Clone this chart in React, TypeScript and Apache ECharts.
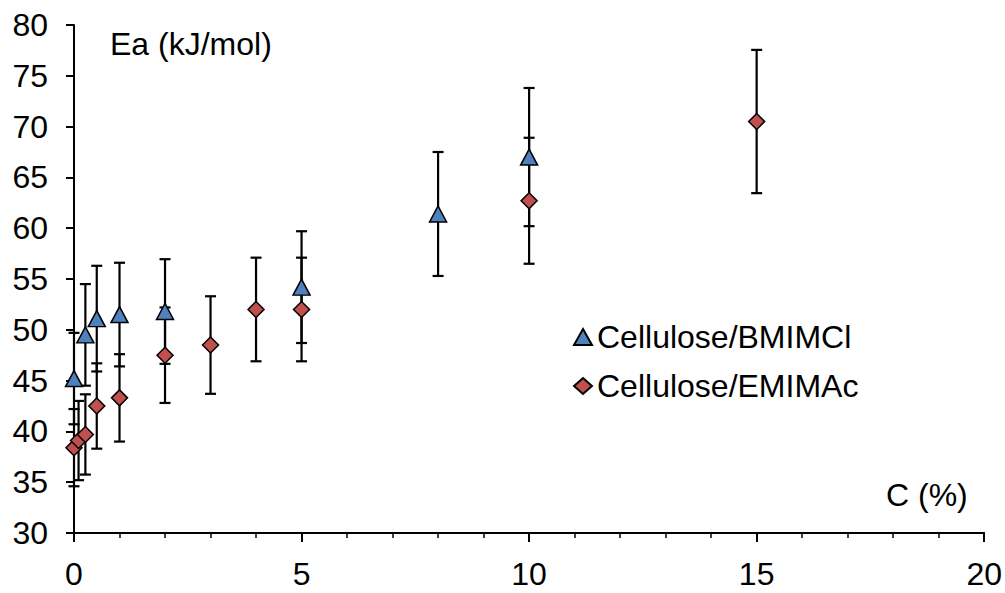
import React, { useEffect, useRef } from "react";
import * as echarts from "echarts";

const xBM = [0, 0.25, 0.5, 1, 2, 5, 8, 10];
const yBM = [45.2, 49.5, 51.1, 51.5, 51.8, 54.2, 61.4, 67.0];
const eBM = [4.5, 5.0, 5.2, 5.1, 5.15, 5.5, 6.1, 6.8];

const xEM = [0, 0.1, 0.25, 0.5, 1, 2, 3, 4, 5, 10, 15];
const yEM = [38.4, 39.1, 39.7, 42.5, 43.3, 47.5, 48.5, 52.0, 52.0, 62.7, 70.5];
const eEM = [3.8, 3.9, 3.95, 4.2, 4.3, 4.7, 4.8, 5.1, 5.1, 6.2, 7.05];

const nameBM = "Cellulose/BMIMCl";
const nameEM = "Cellulose/EMIMAc";
const FONT = "Liberation Sans, Arial, sans-serif";
const FS = 32;

function errData(xs: number[], ys: number[], es: number[]) {
  return xs.map((x, i) => [x, ys[i] - es[i], ys[i] + es[i]]);
}

function renderErr(params: any, api: any) {
  const x = api.value(0);
  const lo = api.coord([x, api.value(1)]);
  const hi = api.coord([x, api.value(2)]);
  const hw = 5.5;
  const style = { stroke: "#000", lineWidth: 2.2 };
  return {
    type: "group",
    children: [
      { type: "line", shape: { x1: lo[0], y1: lo[1], x2: hi[0], y2: hi[1] }, style },
      { type: "line", shape: { x1: lo[0] - hw, y1: lo[1], x2: lo[0] + hw, y2: lo[1] }, style },
      { type: "line", shape: { x1: hi[0] - hw, y1: hi[1], x2: hi[0] + hw, y2: hi[1] }, style },
    ],
  };
}

export default function App() {
  const ref = useRef<HTMLDivElement>(null);
  useEffect(() => {
    const chart = echarts.init(ref.current!, null, { renderer: "svg" });
    chart.setOption({
      animation: false,
      backgroundColor: "#fff",
      grid: { left: 74, right: 18, top: 25, bottom: 60 },
      xAxis: {
        type: "value",
        min: 0,
        max: 20,
        interval: 5,
        axisLine: { show: true, lineStyle: { color: "#000", width: 2 } },
        axisTick: { show: true, inside: false, length: 9, lineStyle: { color: "#000", width: 2 } },
        minorTick: { show: true, splitNumber: 5, length: 5, lineStyle: { color: "#000", width: 1.5 } },
        splitLine: { show: false },
        axisLabel: { color: "#000", fontSize: FS, fontFamily: FONT, margin: 25 },
      },
      yAxis: {
        type: "value",
        min: 30,
        max: 80,
        interval: 5,
        axisLine: { show: true, lineStyle: { color: "#000", width: 2 } },
        axisTick: { show: true, inside: false, length: 8, lineStyle: { color: "#000", width: 2 } },
        splitLine: { show: false },
        axisLabel: { color: "#000", fontSize: FS, fontFamily: FONT, margin: 26 },
      },
      legend: {
        orient: "vertical",
        left: 568,
        top: 316,
        itemWidth: 18,
        itemHeight: 16,
        itemGap: 17,
        textStyle: { color: "#000", fontSize: FS, fontFamily: FONT },
        data: [nameBM, nameEM],
      },
      graphic: [
        { type: "text", left: 110, top: 28, style: { text: "Ea (kJ/mol)", fontSize: FS, fontFamily: FONT, fill: "#000" } },
        { type: "text", left: 886, top: 479, style: { text: "C (%)", fontSize: FS, fontFamily: FONT, fill: "#000" } },
      ],
      series: [
        { type: "custom", name: "errBM", renderItem: renderErr, data: errData(xBM, yBM, eBM), z: 2, encode: { x: 0, y: [1, 2] } },
        { type: "custom", name: "errEM", renderItem: renderErr, data: errData(xEM, yEM, eEM), z: 2, encode: { x: 0, y: [1, 2] } },
        {
          type: "scatter",
          name: nameBM,
          symbol: "triangle",
          symbolSize: [17, 16],
          itemStyle: { color: "#4F81BD", borderColor: "#000", borderWidth: 1.5, opacity: 1 },
          data: xBM.map((x, i) => [x, yBM[i]]),
          z: 3,
        },
        {
          type: "scatter",
          name: nameEM,
          symbol: "diamond",
          symbolSize: 16,
          itemStyle: { color: "#C0504D", borderColor: "#000", borderWidth: 1.5, opacity: 1 },
          data: xEM.map((x, i) => [x, yEM[i]]),
          z: 4,
        },
      ],
    });
    return () => chart.dispose();
  }, []);
  return <div ref={ref} style={{ position: "absolute", left: 0, top: 0, width: 1005, height: 593 }} />;
}
